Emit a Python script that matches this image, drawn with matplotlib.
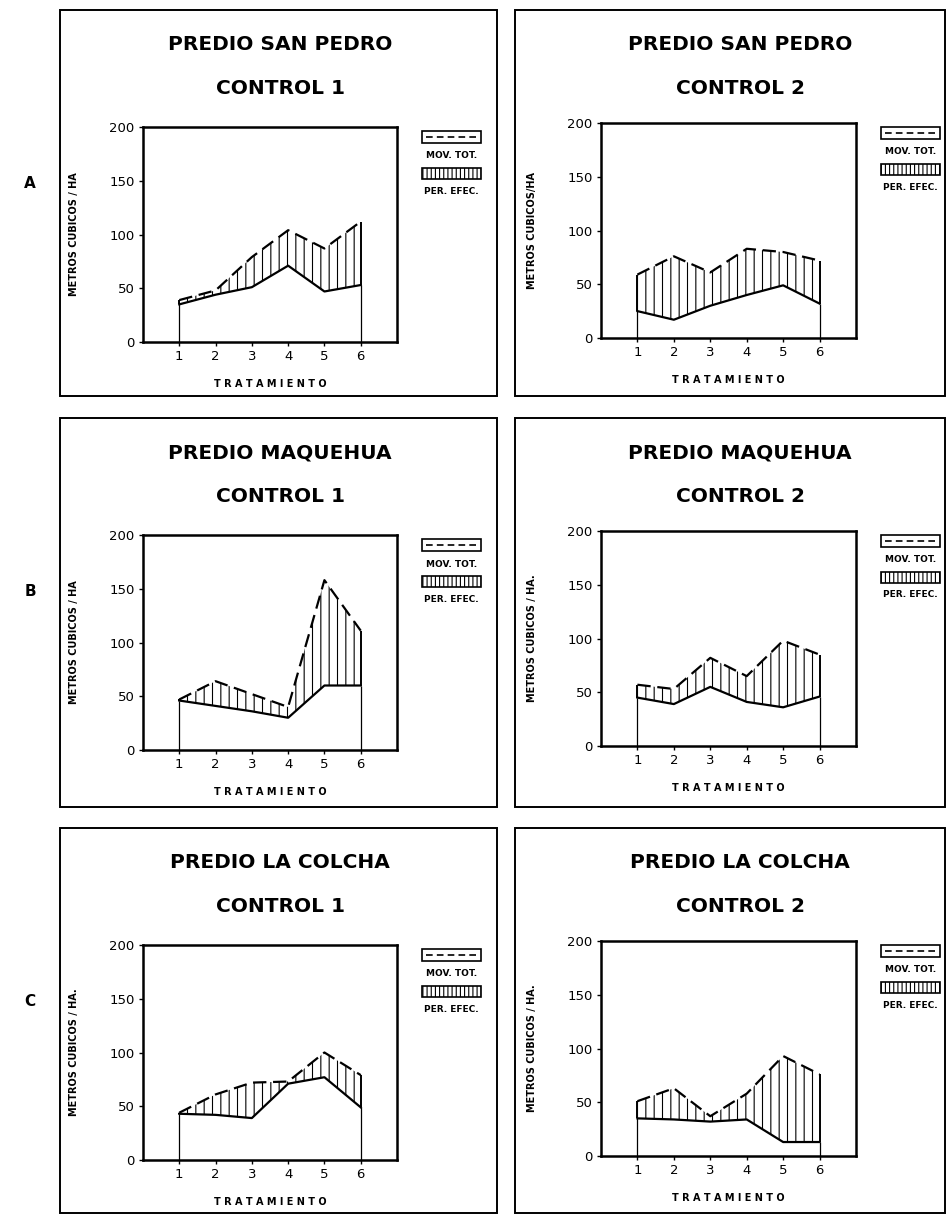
import matplotlib
matplotlib.use("Agg")
import matplotlib.pyplot as plt
from matplotlib.patches import Rectangle
from matplotlib.lines import Line2D

# Data (m3/ha per treatment)
treatments = [1, 2, 3, 4, 5, 6]

sp1_base = [35, 44, 51, 71, 47, 53]
sp1_tot = [39, 48, 79, 104, 87, 112]
sp2_base = [25, 17, 30, 40, 49, 32]
sp2_tot = [59, 76, 61, 83, 80, 72]

mq1_base = [46, 41, 36, 30, 60, 60]
mq1_tot = [47, 64, 52, 40, 158, 111]
mq2_base = [45, 39, 55, 41, 36, 46]
mq2_tot = [57, 53, 82, 65, 98, 85]

lc1_base = [43, 42, 39, 71, 77, 49]
lc1_tot = [44, 61, 72, 73, 100, 79]
lc2_base = [35, 34, 32, 34, 13, 13]
lc2_tot = [51, 63, 37, 58, 93, 76]

y_ticks = [0, 50, 100, 150, 200]
row_letters = ["A", "B", "C"]
predios = ["PREDIO SAN PEDRO", "PREDIO MAQUEHUA", "PREDIO LA COLCHA"]
controls = ["CONTROL 1", "CONTROL 2"]
ylabels = [["METROS CUBICOS / HA", "METROS CUBICOS/HA"],
           ["METROS CUBICOS / HA", "METROS CUBICOS / HA."],
           ["METROS CUBICOS / HA.", "METROS CUBICOS / HA."]]
series = [[(sp1_base, sp1_tot), (sp2_base, sp2_tot)],
          [(mq1_base, mq1_tot), (mq2_base, mq2_tot)],
          [(lc1_base, lc1_tot), (lc2_base, lc2_tot)]]

W, H = 948, 1216
plt.rcParams['hatch.linewidth'] = 0.8
fig = plt.figure(figsize=(W / 100, H / 100), dpi=100)
fig.patch.set_facecolor("white")


# pixel -> figure fraction helpers
def fx(x):
    return x / W


def fy(y):
    return 1 - y / H


row_top = [10, 418, 828]
row_bot = [396, 807, 1213]
box_x = [(60, 497), (515, 945)]
ax_x = [(143, 397), (601, 856)]
title_cx = [280, 740]

for r in range(3):
    top = row_top[r]
    fig.text(fx(30), fy(top + 173), row_letters[r], fontsize=11, fontweight="bold",
             ha="center", va="center")
    for c in range(2):
        bx0, bx1 = box_x[c]
        fig.add_artist(Rectangle((fx(bx0), fy(row_bot[r])), fx(bx1 - bx0),
                                 (row_bot[r] - top) / H, transform=fig.transFigure,
                                 fill=False, edgecolor="black", linewidth=1.4))
        fig.text(fx(title_cx[c]), fy(top + 35), predios[r], fontsize=14.5,
                 ha="center", va="center", fontweight="bold")
        fig.text(fx(title_cx[c]), fy(top + 78), controls[c], fontsize=14.5,
                 ha="center", va="center", fontweight="bold")

        a0, a1 = ax_x[c]
        atop = top + (117 if c == 0 else 113)
        abot = atop + 215
        ax = fig.add_axes([fx(a0), fy(abot), fx(a1 - a0), (abot - atop) / H])
        base, tot = series[r][c]
        ax.fill_between(treatments, base, tot, facecolor="none", edgecolor="black",
                        hatch="||", linewidth=0)
        ax.plot(treatments, base, color="black", linewidth=1.6)
        ax.plot(treatments, tot, color="black", linewidth=1.6, linestyle=(0, (6, 3)))
        ax.vlines([treatments[0], treatments[-1]], 0, [base[0], base[-1]],
                  color="black", linewidth=0.9)
        ax.vlines([treatments[0], treatments[-1]], [base[0], base[-1]],
                  [tot[0], tot[-1]], color="black", linewidth=1.4)
        ax.set_xlim(0, 7)
        ax.set_ylim(0, 200)
        ax.set_xticks(treatments)
        ax.set_yticks(y_ticks)
        ax.tick_params(labelsize=9.5, length=3, width=1, pad=3)
        for s in ax.spines.values():
            s.set_linewidth(1.8)
        ax.set_xlabel("T R A T A M I E N T O", fontsize=7, fontweight="bold",
                      labelpad=11)
        ax.set_ylabel(ylabels[r][c], fontsize=7, fontweight="bold", labelpad=22)

        # hand-drawn style legend to the right of the plot
        lx0, lx1 = a1 + 25, a1 + 84
        fig.add_artist(Rectangle((fx(lx0), fy(atop + 16)), fx(lx1 - lx0), 12 / H,
                                 transform=fig.transFigure, fill=False,
                                 edgecolor="black", linewidth=1.2))
        fig.add_artist(Line2D([fx(lx0 + 4), fx(lx1 - 4)], [fy(atop + 10), fy(atop + 10)],
                              transform=fig.transFigure, color="black",
                              linewidth=1.2, linestyle=(0, (4, 2.5))))
        fig.text(fx((lx0 + lx1) / 2), fy(atop + 29), "MOV. TOT.", fontsize=6.5,
                 fontweight="bold", ha="center", va="center")
        fig.add_artist(Rectangle((fx(lx0), fy(atop + 52)), fx(lx1 - lx0), 11 / H,
                                 transform=fig.transFigure, facecolor="white",
                                 edgecolor="black", hatch="||||", linewidth=1.2))
        fig.text(fx((lx0 + lx1) / 2), fy(atop + 64), "PER. EFEC.", fontsize=6.5,
                 fontweight="bold", ha="center", va="center")

fig.savefig("out.png", dpi=100, facecolor="white")
